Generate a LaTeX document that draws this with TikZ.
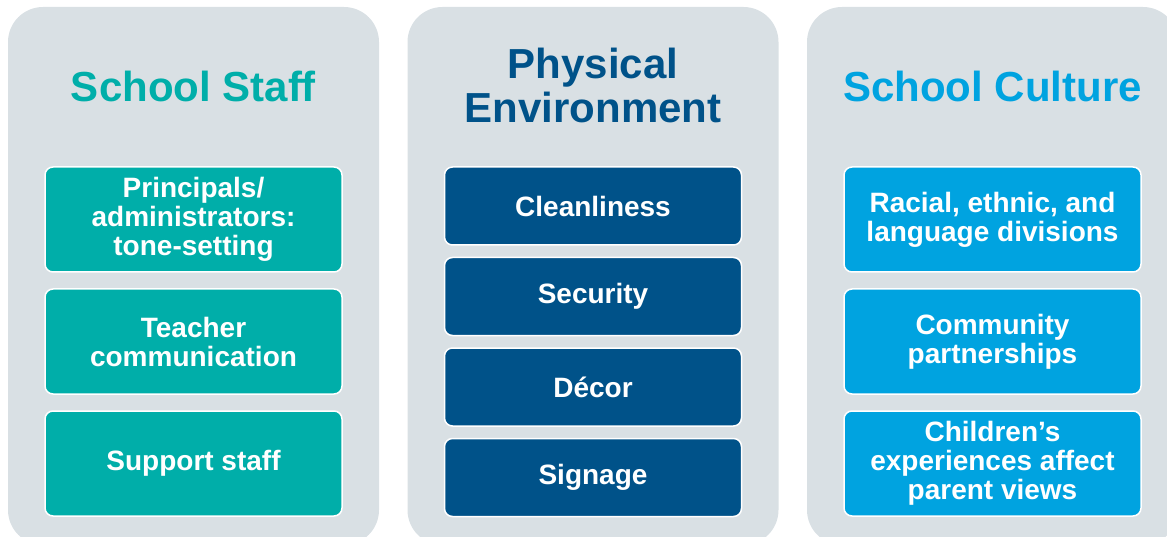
\documentclass[tikz,border=0pt]{standalone}
\usepackage{fontspec}
\setmainfont{Liberation Sans}
\usepackage{xcolor}
\usepackage{tikz}
\usetikzlibrary{positioning}

\definecolor{staffteal}{RGB}{0,174,169}
\definecolor{envblue}{RGB}{0,82,137}
\definecolor{cultureblue}{RGB}{0,163,224}
\definecolor{panelgrey}{RGB}{217,224,228}

\begin{document}
\begin{tikzpicture}[
            x=1pt, y=-1pt,
            panel/.style={rectangle, fill=panelgrey, rounded corners=35pt, minimum width=371pt, minimum height=538pt, inner sep=0pt},
            heading/.style={font=\fontsize{42}{44}\selectfont\bfseries, align=center},
            item/.style={rectangle, draw=white, line width=1.5pt, rounded corners=8pt, text=white, minimum width=297pt, align=center, inner sep=2pt, font=\fontsize{28}{29}\selectfont\bfseries},
            tallitem/.style={item, minimum height=105pt},
            shortitem/.style={item, minimum height=78pt}
        ]
        \useasboundingbox (0,0) rectangle (1167,537);
        \clip (0,0) rectangle (1167,537);

        % School Staff column
        \node[panel] (staff_panel) at (193.5,276) {};
        \node[heading, text=staffteal] (staff_title) at (193.5,86) {School Staff};
        \node[tallitem, fill=staffteal] (principals) at (193.5,219.5) {Principals/\\administrators:\\tone-setting};
        \node[tallitem, fill=staffteal, below=15.5pt of principals] (teacher) {Teacher\\communication};
        \node[tallitem, fill=staffteal, below=15.5pt of teacher] (support) {Support staff};

        % Physical Environment column
        \node[panel] (env_panel) at (593,276) {};
        \node[heading, text=envblue] (env_title) at (593,85) {Physical\\Environment};
        \node[shortitem, fill=envblue] (clean) at (593,206) {Cleanliness};
        \node[shortitem, fill=envblue, below=11pt of clean] (security) {Security};
        \node[shortitem, fill=envblue, below=11pt of security] (decor) {D\'ecor};
        \node[shortitem, fill=envblue, below=11pt of decor] (signage) {Signage};

        % School Culture column
        \node[panel] (culture_panel) at (992.5,276) {};
        \node[heading, text=cultureblue] (culture_title) at (992.5,86) {School Culture};
        \node[tallitem, fill=cultureblue] (divisions) at (992.5,219.5) {Racial, ethnic, and\\language divisions};
        \node[tallitem, fill=cultureblue, below=15.5pt of divisions] (community) {Community\\partnerships};
        \node[tallitem, fill=cultureblue, below=15.5pt of community] (children) {Children’s\\experiences affect\\parent views};
    \end{tikzpicture}
\end{document}
